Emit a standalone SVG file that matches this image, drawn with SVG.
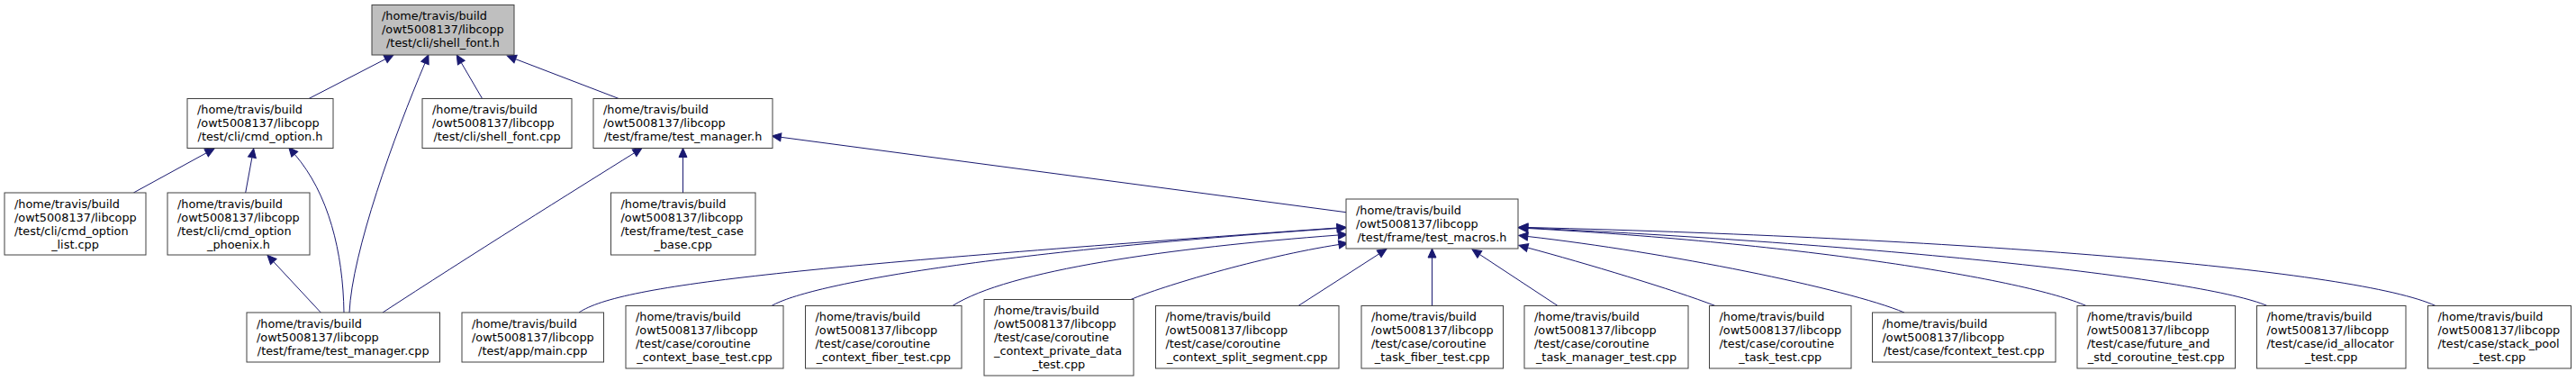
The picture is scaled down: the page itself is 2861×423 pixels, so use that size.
<svg xmlns="http://www.w3.org/2000/svg" width="2861" height="423" viewBox="0 0 2861 423">
<style>
.node rect{fill:#ffffff;stroke:#404040;stroke-width:1}
.root rect{fill:#bfbfbf}
text{font-family:'DejaVu Sans','Liberation Sans',sans-serif;font-size:12.85px;fill:#000}
.c{text-anchor:middle}
.edges path{fill:none;stroke:#191970;stroke-width:1;marker-end:url(#ah)}
</style>
<defs>
<marker id="ah" markerUnits="userSpaceOnUse" markerWidth="12" markerHeight="11" refX="0" refY="4.5" orient="auto" overflow="visible">
<path d="M0,0 L10,4.5 L0,9 z" fill="#191970" stroke="#191970" stroke-width="1"/>
</marker>
</defs>
<rect width="2861" height="423" fill="#ffffff"/>
<g class="edges">
<path d="M343,109.5 L428.1,65.6"/>
<path d="M388,347 C391,280 438,150 472,70"/>
<path d="M535.6,109.5 L512.3,69.6"/>
<path d="M687.3,109.5 L572.6,65.6"/>
<path d="M148.3,214 L229.2,169.8"/>
<path d="M272.7,214 L279.9,174.8"/>
<path d="M382,347 C381,280 365,215 327.3,171.3"/>
<path d="M356.3,347 L303.8,290.6"/>
<path d="M425,347 C520,285 640,210 704.5,169.8"/>
<path d="M758.5,214 L758.5,174.5"/>
<path d="M1495,235.7 L867.3,152.3"/>
<path d="M643,347 C690,315 900,295 1485,253"/>
<path d="M857,339.5 C900,315 1100,280 1485,253.5"/>
<path d="M1058,339.5 C1120,300 1300,275 1486.3,261"/>
<path d="M1256,332.5 C1290,318 1400,285 1487,271.5"/>
<path d="M1442,339.5 L1531.6,281.9"/>
<path d="M1590.5,339.5 L1590.5,286"/>
<path d="M1730,339.5 L1643.4,282.5"/>
<path d="M1905,339.5 C1860,322 1760,292 1696.6,275"/>
<path d="M2115,347 C2050,320 1850,280 1696.8,262.5"/>
<path d="M2317,339.5 C2250,310 2000,270 1696.8,253.5"/>
<path d="M2518,339.5 C2450,310 2100,272 1696.8,253"/>
<path d="M2705,339.5 C2620,300 2200,265 1696.8,252.5"/>
</g>
<g id="shell_font_h" class="node root">
<rect x="413" y="5.5" width="158" height="55.5"/>
<text x="424" y="21.5">/home/travis/build</text>
<text x="424" y="36.5">/owt5008137/libcopp</text>
<text class="c" x="492" y="51.5">/test/cli/shell_font.h</text>
</g>
<g id="cmd_option_h" class="node">
<rect x="208" y="109.5" width="162" height="55"/>
<text x="219" y="126">/home/travis/build</text>
<text x="219" y="141">/owt5008137/libcopp</text>
<text class="c" x="289" y="156">/test/cli/cmd_option.h</text>
</g>
<g id="shell_font_cpp" class="node">
<rect x="469" y="109.5" width="166" height="55"/>
<text x="480" y="126">/home/travis/build</text>
<text x="480" y="141">/owt5008137/libcopp</text>
<text class="c" x="552" y="156">/test/cli/shell_font.cpp</text>
</g>
<g id="test_manager_h" class="node">
<rect x="659" y="109.5" width="199" height="55"/>
<text x="670" y="126">/home/travis/build</text>
<text x="670" y="141">/owt5008137/libcopp</text>
<text class="c" x="758.5" y="156">/test/frame/test_manager.h</text>
</g>
<g id="cmd_option_list_cpp" class="node">
<rect x="5" y="214" width="157" height="69"/>
<text x="16" y="230.5">/home/travis/build</text>
<text x="16" y="245.5">/owt5008137/libcopp</text>
<text x="16" y="260.5">/test/cli/cmd_option</text>
<text class="c" x="83.5" y="275.5">_list.cpp</text>
</g>
<g id="cmd_option_phoenix_h" class="node">
<rect x="186" y="214" width="158" height="69"/>
<text x="197" y="230.5">/home/travis/build</text>
<text x="197" y="245.5">/owt5008137/libcopp</text>
<text x="197" y="260.5">/test/cli/cmd_option</text>
<text class="c" x="265" y="275.5">_phoenix.h</text>
</g>
<g id="test_case_base_cpp" class="node">
<rect x="678.5" y="214" width="160.5" height="69"/>
<text x="689.5" y="230.5">/home/travis/build</text>
<text x="689.5" y="245.5">/owt5008137/libcopp</text>
<text x="689.5" y="260.5">/test/frame/test_case</text>
<text class="c" x="758.75" y="275.5">_base.cpp</text>
</g>
<g id="test_manager_cpp" class="node">
<rect x="274" y="347" width="214.5" height="55"/>
<text x="285" y="363.5">/home/travis/build</text>
<text x="285" y="378.5">/owt5008137/libcopp</text>
<text class="c" x="381.25" y="393.5">/test/frame/test_manager.cpp</text>
</g>
<g id="test_macros_h" class="node">
<rect x="1495" y="221" width="191" height="55"/>
<text x="1506" y="237.5">/home/travis/build</text>
<text x="1506" y="252.5">/owt5008137/libcopp</text>
<text class="c" x="1590.5" y="267.5">/test/frame/test_macros.h</text>
</g>
<g id="main_cpp" class="node">
<rect x="513" y="347" width="157.5" height="55"/>
<text x="524" y="363.5">/home/travis/build</text>
<text x="524" y="378.5">/owt5008137/libcopp</text>
<text class="c" x="591.75" y="393.5">/test/app/main.cpp</text>
</g>
<g id="coroutine_context_base_test_cpp" class="node">
<rect x="695" y="339.5" width="175" height="69.5"/>
<text x="706" y="356">/home/travis/build</text>
<text x="706" y="371">/owt5008137/libcopp</text>
<text x="706" y="386">/test/case/coroutine</text>
<text class="c" x="782.5" y="401">_context_base_test.cpp</text>
</g>
<g id="coroutine_context_fiber_test_cpp" class="node">
<rect x="894.5" y="339.5" width="173.5" height="69.5"/>
<text x="905.5" y="356">/home/travis/build</text>
<text x="905.5" y="371">/owt5008137/libcopp</text>
<text x="905.5" y="386">/test/case/coroutine</text>
<text class="c" x="981.25" y="401">_context_fiber_test.cpp</text>
</g>
<g id="coroutine_context_private_data_test_cpp" class="node">
<rect x="1093" y="332.5" width="166" height="84.5"/>
<text x="1104" y="349">/home/travis/build</text>
<text x="1104" y="364">/owt5008137/libcopp</text>
<text x="1104" y="379">/test/case/coroutine</text>
<text x="1104" y="394">_context_private_data</text>
<text class="c" x="1176" y="409">_test.cpp</text>
</g>
<g id="coroutine_context_split_segment_cpp" class="node">
<rect x="1283.5" y="339.5" width="203.5" height="69.5"/>
<text x="1294.5" y="356">/home/travis/build</text>
<text x="1294.5" y="371">/owt5008137/libcopp</text>
<text x="1294.5" y="386">/test/case/coroutine</text>
<text class="c" x="1385.25" y="401">_context_split_segment.cpp</text>
</g>
<g id="coroutine_task_fiber_test_cpp" class="node">
<rect x="1512" y="339.5" width="157.5" height="69.5"/>
<text x="1523" y="356">/home/travis/build</text>
<text x="1523" y="371">/owt5008137/libcopp</text>
<text x="1523" y="386">/test/case/coroutine</text>
<text class="c" x="1590.75" y="401">_task_fiber_test.cpp</text>
</g>
<g id="coroutine_task_manager_test_cpp" class="node">
<rect x="1693" y="339.5" width="182" height="69.5"/>
<text x="1704" y="356">/home/travis/build</text>
<text x="1704" y="371">/owt5008137/libcopp</text>
<text x="1704" y="386">/test/case/coroutine</text>
<text class="c" x="1784" y="401">_task_manager_test.cpp</text>
</g>
<g id="coroutine_task_test_cpp" class="node">
<rect x="1898.5" y="339.5" width="157.5" height="69.5"/>
<text x="1909.5" y="356">/home/travis/build</text>
<text x="1909.5" y="371">/owt5008137/libcopp</text>
<text x="1909.5" y="386">/test/case/coroutine</text>
<text class="c" x="1977.25" y="401">_task_test.cpp</text>
</g>
<g id="fcontext_test_cpp" class="node">
<rect x="2079.5" y="347" width="203.5" height="55"/>
<text x="2090.5" y="363.5">/home/travis/build</text>
<text x="2090.5" y="378.5">/owt5008137/libcopp</text>
<text class="c" x="2181.25" y="393.5">/test/case/fcontext_test.cpp</text>
</g>
<g id="future_and_std_coroutine_test_cpp" class="node">
<rect x="2307" y="339.5" width="175.5" height="69.5"/>
<text x="2318" y="356">/home/travis/build</text>
<text x="2318" y="371">/owt5008137/libcopp</text>
<text x="2318" y="386">/test/case/future_and</text>
<text class="c" x="2394.75" y="401">_std_coroutine_test.cpp</text>
</g>
<g id="id_allocator_test_cpp" class="node">
<rect x="2506.5" y="339.5" width="165.5" height="69.5"/>
<text x="2517.5" y="356">/home/travis/build</text>
<text x="2517.5" y="371">/owt5008137/libcopp</text>
<text x="2517.5" y="386">/test/case/id_allocator</text>
<text class="c" x="2589.25" y="401">_test.cpp</text>
</g>
<g id="stack_pool_test_cpp" class="node">
<rect x="2696.5" y="339.5" width="159" height="69.5"/>
<text x="2707.5" y="356">/home/travis/build</text>
<text x="2707.5" y="371">/owt5008137/libcopp</text>
<text x="2707.5" y="386">/test/case/stack_pool</text>
<text class="c" x="2776" y="401">_test.cpp</text>
</g>
</svg>
